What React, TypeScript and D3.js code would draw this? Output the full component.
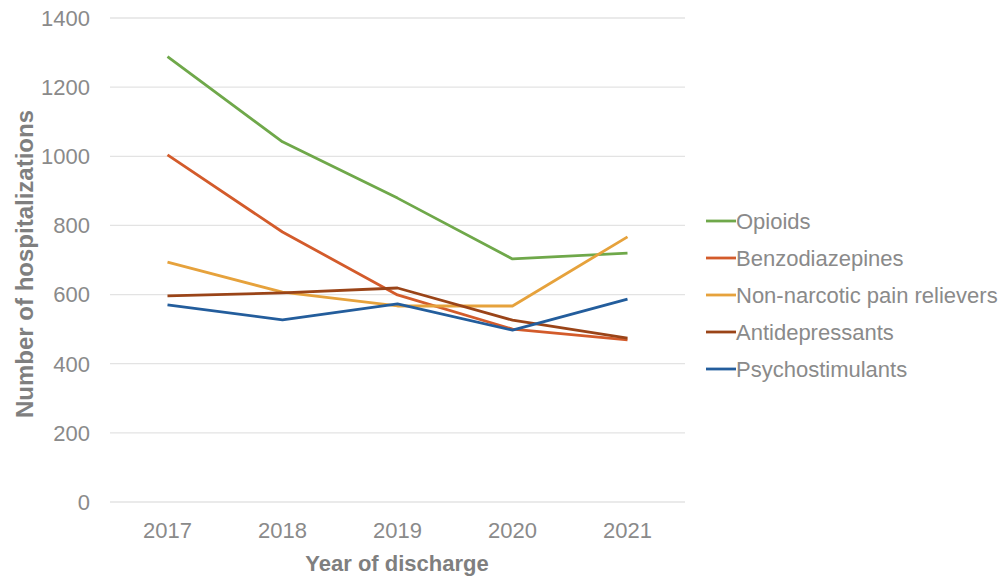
import { line as d3Line, scaleLinear, scalePoint } from "d3";

const years = ["2017", "2018", "2019", "2020", "2021"];
const yTicks = [0, 200, 400, 600, 800, 1000, 1200, 1400];

const opioids = [1288, 1042, 879, 703, 720];
const benzodiazepines = [1004, 781, 599, 500, 469];
const nonNarcotic = [694, 607, 567, 567, 767];
const antidepressants = [596, 605, 619, 526, 474];
const psychostimulants = [570, 527, 573, 497, 587];

const series = [
  { name: "Opioids", values: opioids, color: "#6FA84A" },
  { name: "Benzodiazepines", values: benzodiazepines, color: "#D35B2B" },
  { name: "Non-narcotic pain relievers", values: nonNarcotic, color: "#E6A23C" },
  { name: "Antidepressants", values: antidepressants, color: "#9A4418" },
  { name: "Psychostimulants", values: psychostimulants, color: "#235D9C" },
];

const W = 1000;
const H = 576;
const left = 110;
const right = 685;
const top = 18;
const bottom = 502;
const font = "'Liberation Sans', Arial, sans-serif";
const textColor = "#8a8a8a";

export default function App() {
  const x = scalePoint<string>().domain(years).range([left, right]).padding(0.5);
  const y = scaleLinear().domain([0, 1400]).range([bottom, top]);
  const path = d3Line<number>()
    .x((_, i) => x(years[i]) ?? 0)
    .y((d) => y(d));

  return (
    <svg
      width={W}
      height={H}
      style={{ position: "absolute", left: 0, top: 0, background: "#fff" }}
      fontFamily={font}
    >
      {yTicks.map((t) => (
        <g key={t}>
          <line x1={left} x2={right} y1={y(t)} y2={y(t)} stroke="#e3e3e3" strokeWidth={1.3} />
          <text x={90} y={y(t)} dy="0.36em" textAnchor="end" fontSize={22} fill={textColor}>
            {t}
          </text>
        </g>
      ))}
      {years.map((yr) => (
        <text key={yr} x={x(yr)} y={538} textAnchor="middle" fontSize={22} fill={textColor}>
          {yr}
        </text>
      ))}
      <text x={397} y={571} textAnchor="middle" fontSize={22} fontWeight="bold" fill="#7f7f7f">
        Year of discharge
      </text>
      <text
        transform={`translate(33, ${264}) rotate(-90)`}
        textAnchor="middle"
        fontSize={24}
        fontWeight="bold"
        fill="#7f7f7f"
      >
        Number of hospitalizations
      </text>
      {series.map((s) => (
        <path
          key={s.name}
          d={path(s.values) ?? undefined}
          fill="none"
          stroke={s.color}
          strokeWidth={2.8}
          strokeLinejoin="round"
        />
      ))}
      {series.map((s, i) => {
        const ly = 221 + i * 37;
        return (
          <g key={s.name}>
            <line x1={706} x2={736} y1={ly} y2={ly} stroke={s.color} strokeWidth={2.8} />
            <text x={736} y={ly} dy="0.36em" fontSize={22} fill={textColor}>
              {s.name}
            </text>
          </g>
        );
      })}
    </svg>
  );
}
